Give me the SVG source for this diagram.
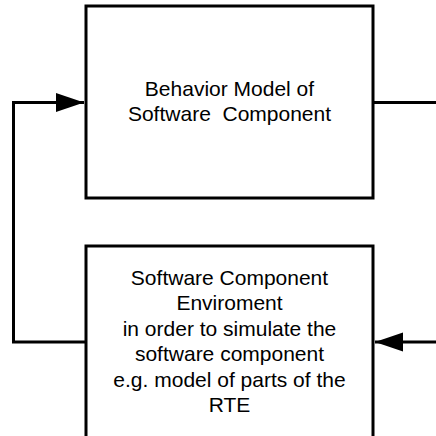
<svg xmlns="http://www.w3.org/2000/svg" width="436" height="436" viewBox="0 0 436 436">
  <style>
    .box { fill: #ffffff; stroke: #000000; stroke-width: 3; }
    .wire { fill: none; stroke: #000000; stroke-width: 3; }
    .label { font-family: "Liberation Sans", Arial, sans-serif; font-size: 21px; fill: #000000; text-anchor: middle; white-space: pre; }
  </style>
  <defs>
    <marker id="arrow" markerUnits="userSpaceOnUse" markerWidth="30" markerHeight="20" refX="28" refY="9.5" orient="auto">
      <path d="M0,0 L28,9.5 L0,19 Z" fill="#000000"/>
    </marker>
  </defs>
  <rect width="436" height="436" fill="#ffffff"/>
  <g id="connectors">
    <path class="wire" d="M86,342 L13.5,342 L13.5,102.5 L84,102.5" marker-end="url(#arrow)"/>
    <path class="wire" d="M373,102.5 L436,102.5"/>
    <path class="wire" d="M436,342 L375,342" marker-end="url(#arrow)"/>
  </g>
  <g id="behavior-model">
    <rect class="box" x="86" y="6" width="287" height="192"/>
    <text class="label" x="229.5" y="96" xml:space="preserve">Behavior Model of</text>
    <text class="label" x="229.5" y="121" xml:space="preserve">Software  Component</text>
  </g>
  <g id="component-environment">
    <rect class="box" x="86" y="246" width="287" height="200"/>
    <text class="label" x="229.5" y="284.5">Software Component</text>
    <text class="label" x="229.5" y="310">Enviroment</text>
    <text class="label" x="229.5" y="335.5">in order to simulate the</text>
    <text class="label" x="229.5" y="361">software component</text>
    <text class="label" x="229.5" y="386.5">e.g. model of parts of the</text>
    <text class="label" x="229.5" y="412">RTE</text>
  </g>
</svg>
